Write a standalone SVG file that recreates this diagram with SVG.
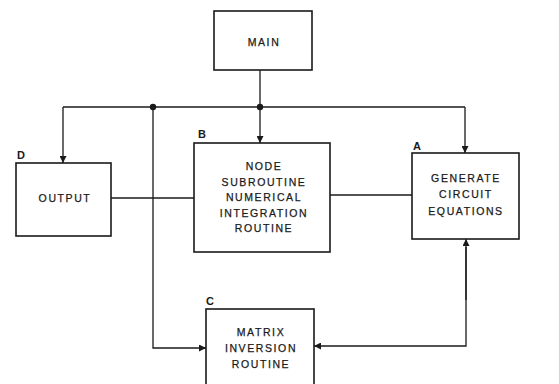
<svg xmlns="http://www.w3.org/2000/svg" width="559" height="384" viewBox="0 0 559 384">
<defs>
<style>
.box{fill:#fff;stroke:#1a1a1a;stroke-width:1.6}
.ln{fill:none;stroke:#1a1a1a;stroke-width:1.3}
.t{font-family:"Liberation Sans",Arial,sans-serif;font-size:10.5px;letter-spacing:1.6px;fill:#1a1a1a;stroke:#1a1a1a;stroke-width:0.25;text-anchor:middle}
.lb{font-family:"Liberation Sans",Arial,sans-serif;font-size:11px;font-weight:bold;fill:#1a1a1a}
</style>
<marker id="ah" viewBox="0 0 10 10" refX="10" refY="5" markerWidth="7" markerHeight="7" markerUnits="userSpaceOnUse" orient="auto">
<path d="M0,0 L10,5 L0,10 Z" fill="#1a1a1a"/>
</marker>
</defs>
<rect width="559" height="384" fill="#fff"/>
<g id="connectors">
<path class="ln" d="M260,70 V106"/>
<path class="ln" d="M63,107 H465"/>
<path class="ln" d="M63,107 V163" marker-end="url(#ah)"/>
<path class="ln" d="M465,107 V153" marker-end="url(#ah)"/>
<path class="ln" d="M260,107 V143" marker-end="url(#ah)"/>
<path class="ln" d="M153,107 V348 H206" marker-end="url(#ah)"/>
<path class="ln" d="M111,198 H194"/>
<path class="ln" d="M330,195 H412"/>
<path class="ln" d="M466,247 V346 H314" marker-end="url(#ah)"/>
<path class="ln" d="M466,300 V239" marker-end="url(#ah)"/>
<circle cx="153" cy="107" r="3.2" fill="#1a1a1a"/>
<circle cx="260" cy="107" r="3.2" fill="#1a1a1a"/>
</g>
<g id="main">
<rect class="box" x="214" y="11" width="98" height="59"/>
<text class="t" x="264" y="46">MAIN</text>
</g>
<g id="nodeB">
<rect class="box" x="194" y="143" width="136" height="109"/>
<text class="lb" x="198" y="138">B</text>
<text class="t" x="264" y="170">NODE</text>
<text class="t" x="264" y="186">SUBROUTINE</text>
<text class="t" x="264" y="201">NUMERICAL</text>
<text class="t" x="264" y="217">INTEGRATION</text>
<text class="t" x="264" y="232">ROUTINE</text>
</g>
<g id="nodeA">
<rect class="box" x="412" y="153" width="107" height="86"/>
<text class="lb" x="413" y="150">A</text>
<text class="t" x="466" y="182">GENERATE</text>
<text class="t" x="466" y="198">CIRCUIT</text>
<text class="t" x="466" y="215">EQUATIONS</text>
</g>
<g id="nodeD">
<rect class="box" x="16" y="163" width="95" height="73"/>
<text class="lb" x="17" y="159">D</text>
<text class="t" x="65" y="202">OUTPUT</text>
</g>
<g id="nodeC">
<rect class="box" x="206" y="309" width="108" height="80"/>
<text class="lb" x="206" y="305">C</text>
<text class="t" x="261" y="336">MATRIX</text>
<text class="t" x="261" y="352">INVERSION</text>
<text class="t" x="261" y="368">ROUTINE</text>
</g>
</svg>
